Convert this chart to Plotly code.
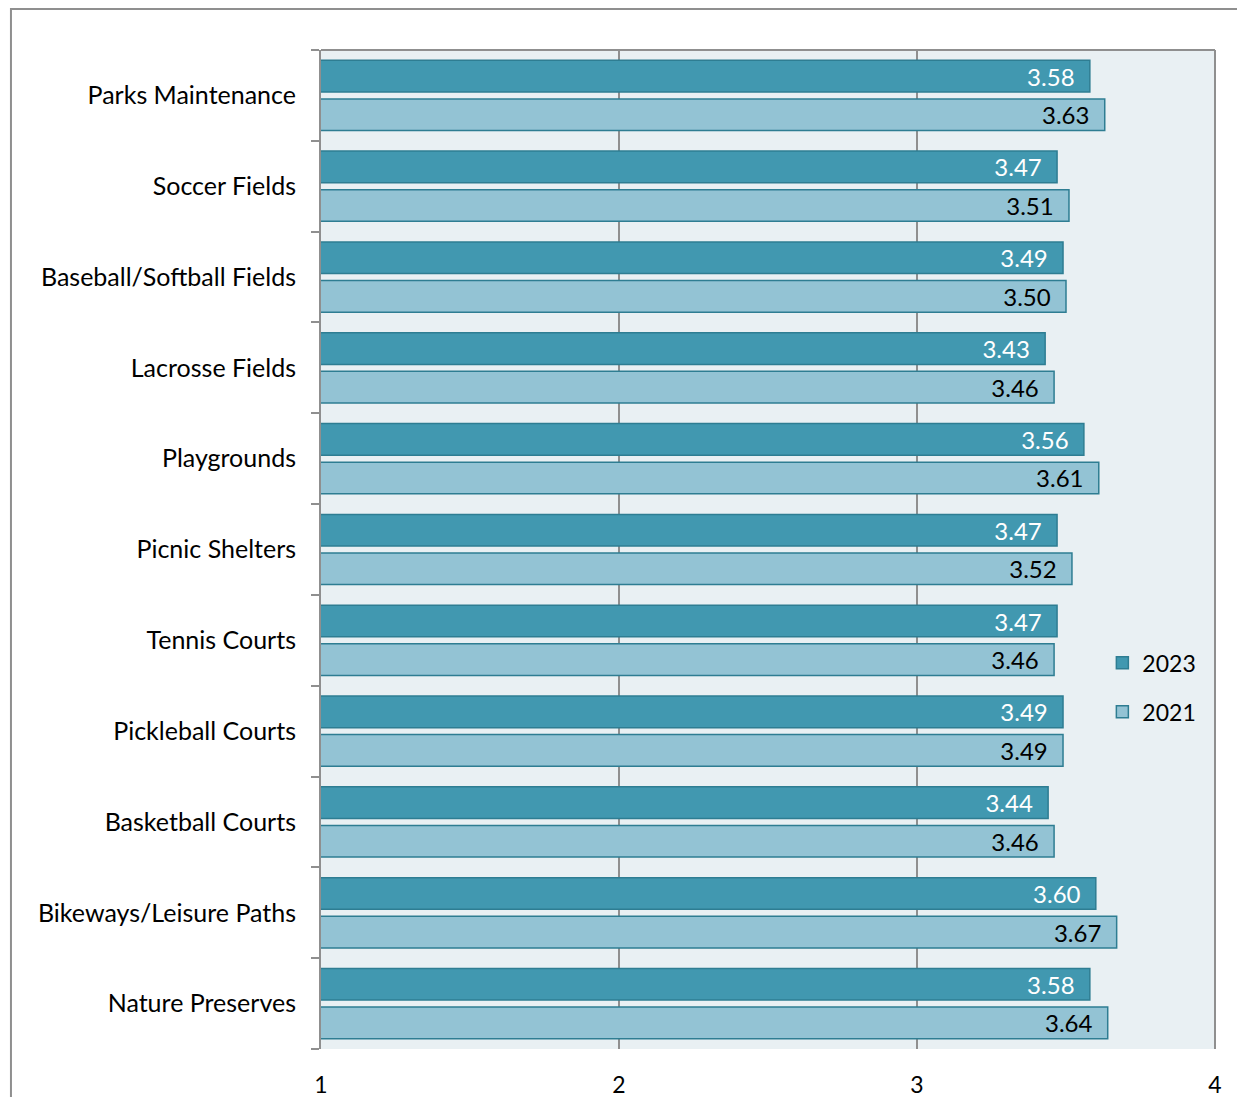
import plotly.graph_objects as go

categories = [
    "Parks Maintenance", "Soccer Fields", "Baseball/Softball Fields",
    "Lacrosse Fields", "Playgrounds", "Picnic Shelters", "Tennis Courts",
    "Pickleball Courts", "Basketball Courts", "Bikeways/Leisure Paths",
    "Nature Preserves",
]
scores_2023 = [3.58, 3.47, 3.49, 3.43, 3.56, 3.47, 3.47, 3.49, 3.44, 3.60, 3.58]
scores_2021 = [3.63, 3.51, 3.50, 3.46, 3.61, 3.52, 3.46, 3.49, 3.46, 3.67, 3.64]
x_ticks = [1, 2, 3, 4]

positions = list(range(len(categories)))
FONT = "Lato, 'Open Sans', sans-serif"
GRID = "#8f8f8f"
EDGE = "#2e7d92"

fig = go.Figure()
fig.add_trace(go.Bar(
    name="2023", y=positions, x=scores_2023, orientation="h",
    marker=dict(color="#4198b0", line=dict(color=EDGE, width=1.5)),
    texttemplate="%{x:.2f}\u00a0\u00a0", textposition="inside",
    insidetextanchor="end", textangle=0, constraintext="none",
    insidetextfont=dict(family=FONT, size=24, color="white"),
    legendgroup="a",
))
fig.add_trace(go.Bar(
    name="2021", y=positions, x=scores_2021, orientation="h",
    marker=dict(color="#93c3d4", line=dict(color=EDGE, width=1.5)),
    texttemplate="%{x:.2f}\u00a0\u00a0", textposition="inside",
    insidetextanchor="end", textangle=0, constraintext="none",
    insidetextfont=dict(family=FONT, size=24, color="black"),
    legendgroup="b",
))

fig.update_layout(
    width=1237, height=1097,
    margin=dict(l=321, r=22, t=50, b=48),
    paper_bgcolor="white", plot_bgcolor="#e9f0f3",
    barmode="group", bargap=0.15, bargroupgap=0.18,
    font=dict(family=FONT, size=24, color="black"),
    legend=dict(
        x=0.874, y=0.362, xanchor="left", yanchor="middle",
        bgcolor="rgba(0,0,0,0)", traceorder="grouped", tracegroupgap=16,
        font=dict(size=23),
    ),
    xaxis=dict(
        range=[1, 4], tickvals=x_ticks, ticktext=[str(v) for v in x_ticks],
        showgrid=True, gridcolor=GRID, gridwidth=2, zeroline=False,
        showline=False, ticks="", ticklabelstandoff=20, automargin=False,
        tickfont=dict(size=23),
    ),
    yaxis=dict(
        range=[len(categories) - 0.5, -0.5], tickvals=positions,
        ticktext=categories, ticks="", showgrid=False, zeroline=False,
        showline=True, linecolor=GRID, linewidth=2, ticklabelstandoff=18,
        automargin=False, tickfont=dict(size=25),
        minor=dict(tickmode="array",
                   tickvals=[p - 0.5 for p in positions] + [len(categories) - 0.5],
                   ticks="outside", ticklen=8, tickcolor=GRID, tickwidth=2,
                   showgrid=False),
    ),
    shapes=[
        # frame around the whole chart
        dict(type="rect", xref="paper", yref="paper",
             x0=-0.3468, x1=1.2, y0=-0.2, y1=1.041,
             line=dict(color=GRID, width=2), fillcolor="rgba(0,0,0,0)"),
        # top and right edges of the plot area
        dict(type="line", xref="paper", yref="paper",
             x0=0, x1=1, y0=1, y1=1, line=dict(color=GRID, width=2)),
        dict(type="line", xref="paper", yref="paper",
             x0=1, x1=1, y0=0, y1=1, line=dict(color=GRID, width=2)),
    ],
)

fig.write_html("out.html")
